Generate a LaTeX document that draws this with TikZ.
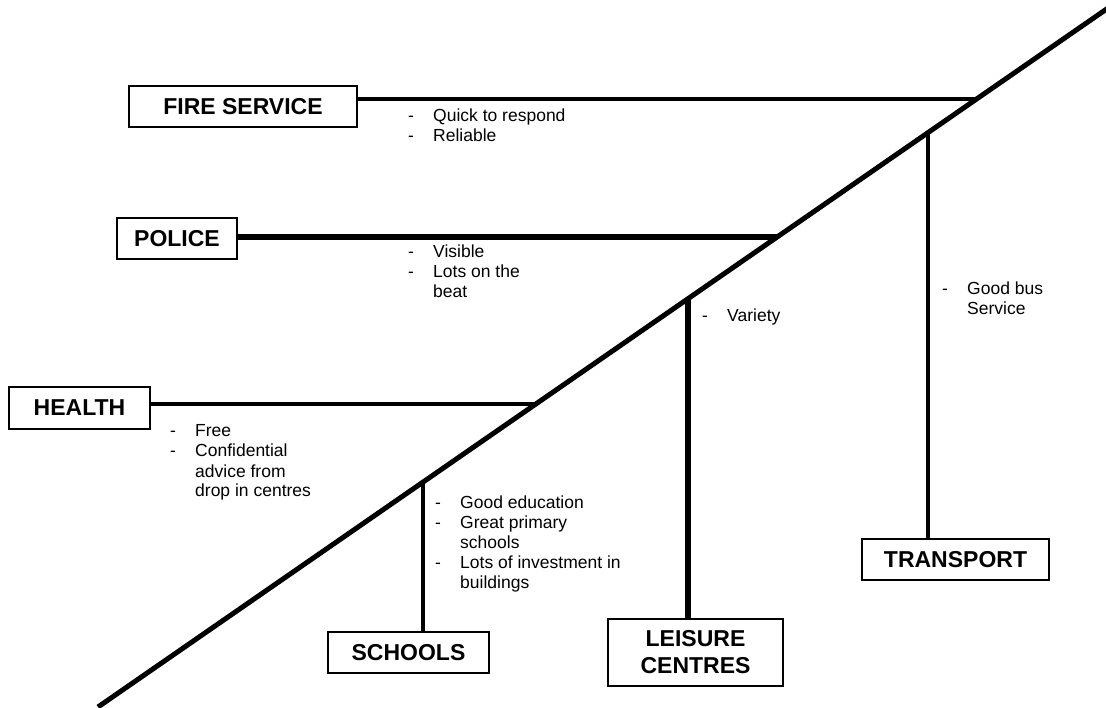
\documentclass[tikz,border=0pt]{standalone}
\usepackage{fontspec}
\setmainfont{Liberation Sans}
\usepackage{array}

\newcommand{\boxfont}{\fontsize{23}{27}\selectfont\bfseries}
\newcommand{\notelist}[1]{\fontsize{17.5}{20}\selectfont\begin{tabular}[t]{@{}wl{25pt}@{}l@{}}#1\end{tabular}}

\begin{document}
\begin{tikzpicture}[x=1pt, y=-1pt,
    box/.style = {draw, line width=2pt, inner sep=0pt, align=center, font=\boxfont},
    spoke/.style = {line width=4pt},
    note/.style = {anchor=base west, inner sep=0pt}]
\useasboundingbox (0,0) rectangle (1106,708);

% the main diagonal and where the spokes meet it
\coordinate (lo) at (98,707);
\coordinate (hi) at (1112,5.3);
\coordinate (fj) at (977,99);
\coordinate (pj) at (777,237);
\coordinate (hj) at (536,404);
\coordinate (sj) at (423,482);
\coordinate (lj) at (688,299);
\coordinate (tj) at (928,133);

% boxes
\node[box, minimum width=228pt, minimum height=41pt] (fire) at (243,106.5) {FIRE SERVICE};
\node[box, minimum width=120pt, minimum height=41pt] (police) at (177,238.5) {POLICE};
\node[box, minimum width=141pt, minimum height=42pt] (health) at (79.5,408) {HEALTH};
\node[box, minimum width=161pt, minimum height=41pt] (schools) at (408.5,652.5) {SCHOOLS};
\node[box, minimum width=175pt, minimum height=67pt] (leisure) at (695.5,652.5) {LEISURE\\CENTRES};
\node[box, minimum width=187pt, minimum height=41pt] (transport) at (955.5,559.5) {TRANSPORT};

% spokes
\draw[spoke, line width=3.3pt] (fj -| fire.east) -- (fj);
\draw[spoke, line width=5.5pt] (pj -| police.east) -- (pj);
\draw[spoke, line width=4.3pt] (hj -| health.east) -- (hj);
\draw[spoke, line width=4.3pt] (sj) -- (sj |- schools.north);
\draw[spoke, line width=5.5pt] (lj) -- (lj |- leisure.north);
\draw[spoke] (tj) -- (tj |- transport.north);
\draw[line width=5pt] (lo) -- (hi);

% notes
\node[note] (firenote) at (408,122) {\notelist{- & Quick to respond\\ - & Reliable}};
\node[note] (policenote) at (408,258) {\notelist{- & Visible\\ - & Lots on the\\ & beat}};
\node[note] (healthnote) at (170,437) {\notelist{- & Free\\ - & Confidential\\ & advice from\\ & drop in centres}};
\node[note] (schoolsnote) at (435,508) {\notelist{- & Good education\\ - & Great primary\\ & schools\\ - & Lots of investment in\\ & buildings}};
\node[note] (leisurenote) at (702,322) {\notelist{- & Variety}};
\node[note] (transportnote) at (942,295) {\notelist{- & Good bus\\ & Service}};
\end{tikzpicture}
\end{document}
